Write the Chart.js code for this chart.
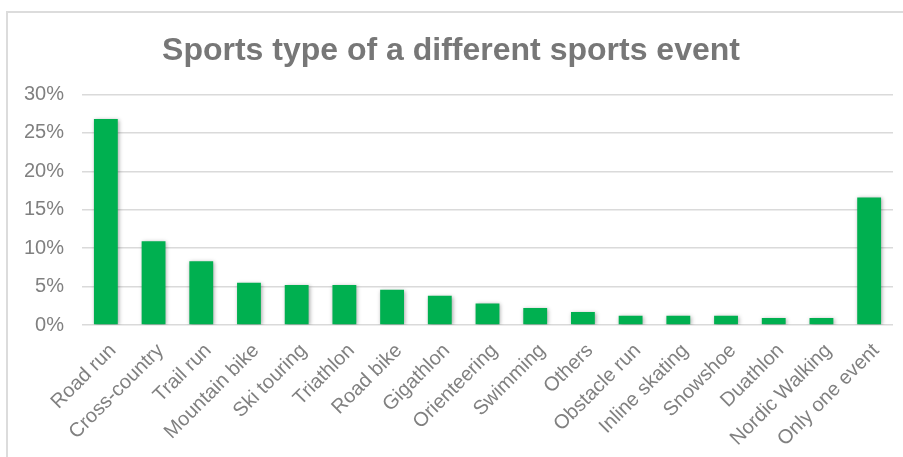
<!DOCTYPE html>
<html>
<head>
<meta charset="utf-8">
<script src="https://cdn.jsdelivr.net/npm/chart.js@4.4.1/dist/chart.umd.min.js"></script>
<style>
  html, body { margin: 0; padding: 0; background: #fff; overflow: hidden; }
  body { width: 903px; height: 457px; position: relative; }
  #frame {
    position: absolute; left: 6px; top: 11px;
    width: 920px; height: 470px;
    border: 2px solid #dcdcdc; box-sizing: border-box;
  }
  #wrap { position: absolute; left: 9px; top: 13px; width: 907px; height: 444px; }
</style>
</head>
<body>
<div id="frame"></div>
<div id="wrap"><canvas id="chart" width="907" height="444"></canvas></div>
<script>
// Share of respondents by sports type of their other event
const categories = [
  'Road run', 'Cross-country', 'Trail run', 'Mountain bike', 'Ski touring',
  'Triathlon', 'Road bike', 'Gigathlon', 'Orienteering', 'Swimming', 'Others',
  'Obstacle run', 'Inline skating', 'Snowshoe', 'Duathlon', 'Nordic Walking',
  'Only one event'
];
const shares = [
  26.8, 10.9, 8.3, 5.5, 5.2,
  5.2, 4.6, 3.8, 2.8, 2.2, 1.7,
  1.2, 1.2, 1.2, 0.9, 0.9,
  16.6
];
const yTicks = [0, 5, 10, 15, 20, 25, 30];

const FONT = "'Liberation Sans', Arial, sans-serif";

// soft drop shadow behind the bars
const barShadow = {
  id: 'barShadow',
  beforeDatasetsDraw(chart) {
    const ctx = chart.ctx;
    ctx.save();
    ctx.shadowColor = 'rgba(0,0,0,0.35)';
    ctx.shadowBlur = 4;
    ctx.shadowOffsetX = 1;
    ctx.shadowOffsetY = 1;
  },
  afterDatasetsDraw(chart) {
    chart.ctx.restore();
  }
};

new Chart(document.getElementById('chart'), {
  type: 'bar',
  data: {
    labels: categories,
    datasets: [{
      data: shares,
      backgroundColor: '#00b050',
      borderWidth: 0,
      categoryPercentage: 1.0,
      barPercentage: 0.5
    }]
  },
  options: {
    responsive: false,
    animation: false,
    layout: { padding: { left: 0, right: 23, top: 0, bottom: 0 } },
    plugins: {
      legend: { display: false },
      tooltip: { enabled: false },
      title: {
        display: true,
        text: 'Sports type of a different sports event',
        color: '#777777',
        font: { family: FONT, size: 32, weight: 'bold', lineHeight: 1.2 },
        padding: { top: 19, bottom: 24 }
      }
    },
    scales: {
      x: {
        grid: { display: false, drawTicks: false },
        border: { display: false },
        ticks: {
          color: '#808080',
          font: { family: FONT, size: 20 },
          maxRotation: 45,
          minRotation: 45,
          autoSkip: false,
          padding: 14,
          labelOffset: 7
        },
        afterFit(scale) { scale.height = 132; }
      },
      y: {
        min: 0,
        max: 30,
        afterBuildTicks(scale) { scale.ticks = yTicks.map(v => ({ value: v })); },
        grid: { color: '#dadada', lineWidth: 1.5, drawTicks: false },
        border: { display: false },
        ticks: {
          color: '#808080',
          font: { family: FONT, size: 20 },
          padding: 18,
          callback: v => v + '%'
        },
        afterFit(scale) { scale.width = 73; }
      }
    }
  },
  plugins: [barShadow]
});
</script>
</body>
</html>
